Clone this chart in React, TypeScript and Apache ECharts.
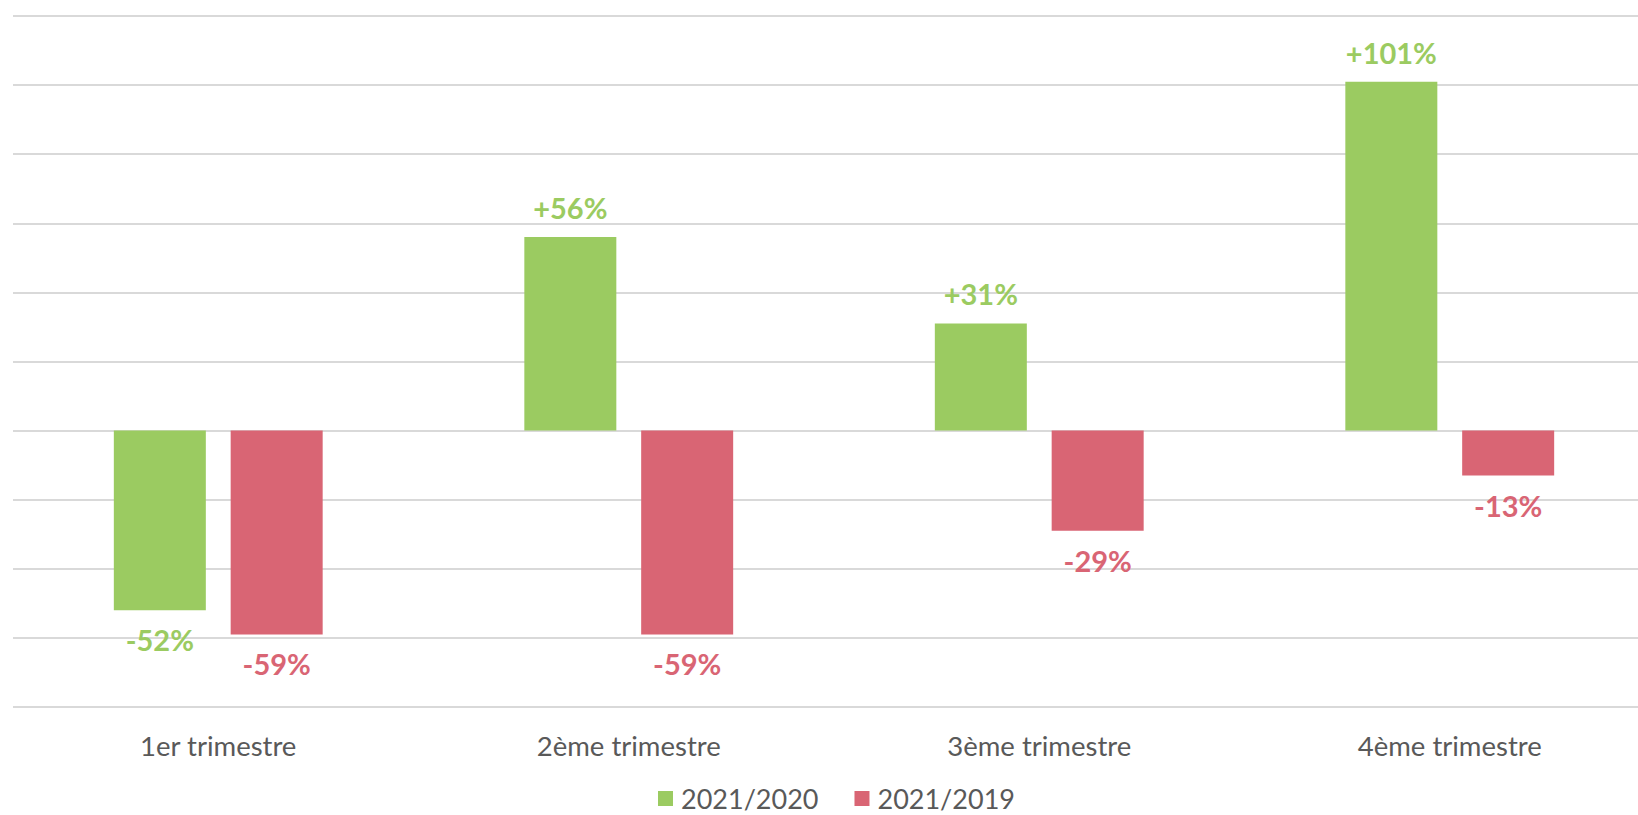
import React, { useEffect, useRef } from "react";
import * as echarts from "echarts";

const categories = ["1er trimestre", "2ème trimestre", "3ème trimestre", "4ème trimestre"];
const seriesNames = ["2021/2020", "2021/2019"];
const values2020 = [-52, 56, 31, 101];
const values2019 = [-59, -59, -29, -13];
const colors = ["#9BCB61", "#D96574"];

const fmt = (v: number) => (v > 0 ? "+" : "") + v + "%";

function buildData(vals: number[]) {
  return vals.map((v) => ({
    value: v,
    label: { position: v >= 0 ? "top" : "bottom" },
  }));
}

export default function App() {
  const ref = useRef<HTMLDivElement>(null);
  useEffect(() => {
    if (!ref.current) return;
    const chart = echarts.init(ref.current, undefined, { renderer: "svg" });
    const labelBase = {
      show: true,
      fontFamily: "Lato",
      fontWeight: "bold" as const,
      fontSize: 29,
      distance: 15,
      formatter: (p: any) => fmt(p.value),
    };
    chart.setOption({
      animation: false,
      backgroundColor: "#ffffff",
      grid: { left: 13, top: 16, width: 1642, height: 691, containLabel: false },
      legend: {
        data: seriesNames,
        top: 785,
        left: 658,
        padding: 0,
        itemWidth: 15,
        itemHeight: 15,
        itemGap: 36,
        icon: "rect",
        textStyle: {
          fontFamily: "Lato",
          fontSize: 27,
          lineHeight: 26,
          color: "#595959",
          padding: [0, 0, 0, 3],
        },
      },
      xAxis: {
        type: "category",
        data: categories,
        axisLine: { show: false },
        axisTick: { show: false },
        axisLabel: { fontFamily: "Lato", fontSize: 27.5, color: "#595959", margin: 24 },
      },
      yAxis: {
        type: "value",
        min: -80,
        max: 120,
        interval: 20,
        axisLabel: { show: false },
        axisLine: { show: false },
        axisTick: { show: false },
        splitLine: { lineStyle: { color: "#D9D9D9", width: 2 } },
      },
      series: [
        {
          name: seriesNames[0],
          type: "bar",
          data: buildData(values2020),
          barWidth: 92,
          barGap: "27%",
          itemStyle: { color: colors[0] },
          label: { ...labelBase, color: colors[0] },
        },
        {
          name: seriesNames[1],
          type: "bar",
          data: buildData(values2019),
          barWidth: 92,
          barGap: "27%",
          itemStyle: { color: colors[1] },
          label: { ...labelBase, color: colors[1] },
        },
      ],
    });
    return () => chart.dispose();
  }, []);
  return (
    <div style={{ position: "fixed", left: 0, top: 0, width: 1638, height: 815, overflow: "hidden", background: "#fff" }}>
      <div ref={ref} style={{ position: "absolute", left: 0, top: 0, width: 1670, height: 815 }} />
    </div>
  );
}
